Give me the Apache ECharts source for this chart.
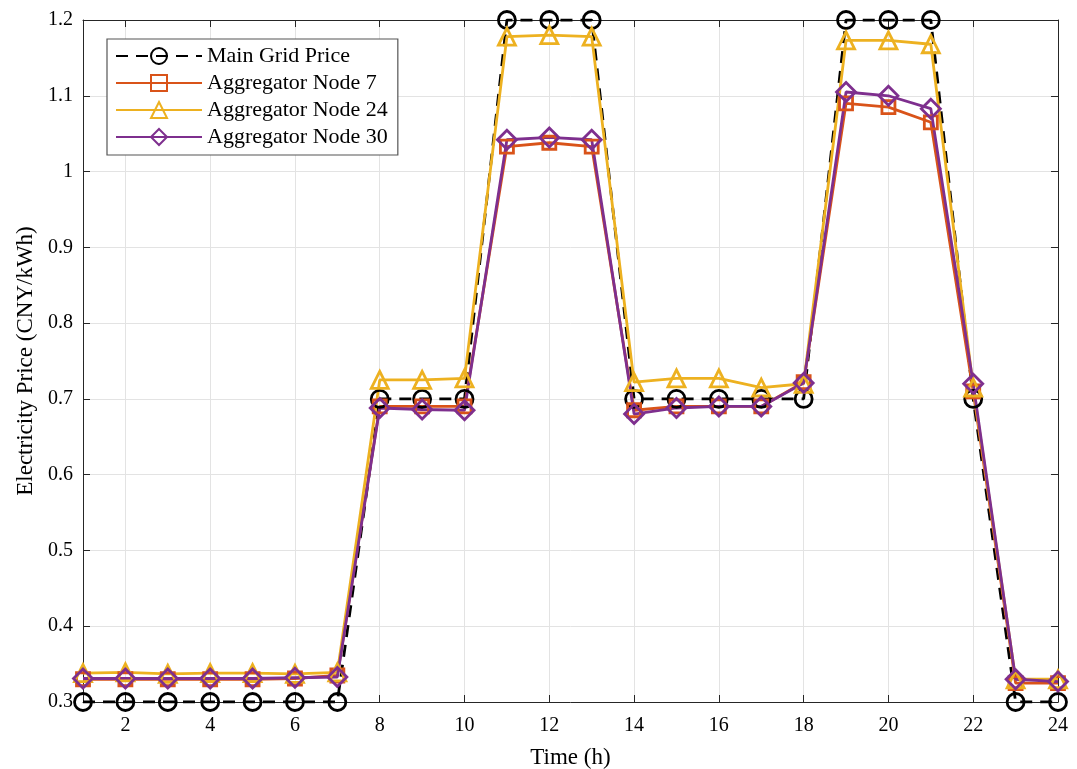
<!DOCTYPE html>
<html><head><meta charset="utf-8">
<script src="https://cdn.jsdelivr.net/npm/echarts@6/dist/echarts.min.js"></script>
<style>html,body{margin:0;padding:0;background:#fff}#c{width:1077px;height:769px}</style>
</head><body><div id="c"></div>
<script>
const hours = [1,2,3,4,5,6,7,8,9,10,11,12,13,14,15,16,17,18,19,20,21,22,23,24];
const gridPrice = [0.3,0.3,0.3,0.3,0.3,0.3,0.3,0.7,0.7,0.7,1.2,1.2,1.2,0.7,0.7,0.7,0.7,0.7,1.2,1.2,1.2,0.7,0.3,0.3];
const node7 = [0.33,0.33,0.33,0.33,0.33,0.331,0.335,0.69,0.69,0.69,1.033,1.038,1.033,0.685,0.69,0.69,0.69,0.722,1.09,1.085,1.065,0.71,0.325,0.325];
const node24 = [0.338,0.339,0.337,0.338,0.338,0.337,0.339,0.725,0.725,0.727,1.178,1.18,1.178,0.722,0.727,0.727,0.715,0.72,1.173,1.173,1.168,0.715,0.33,0.33];
const node30 = [0.331,0.331,0.331,0.331,0.331,0.332,0.333,0.688,0.686,0.685,1.042,1.045,1.042,0.68,0.688,0.69,0.69,0.721,1.105,1.10,1.083,0.72,0.33,0.327];
const yTicks = [0.3,0.4,0.5,0.6,0.7,0.8,0.9,1.0,1.1,1.2];

const FONT = 'Liberation Serif';
const even = (i) => (i % 2 === 1);
function mk(name, data, color, symbol, size, dashed) {
  return {
    name, type: 'line', data, symbol, symbolSize: size,
    lineStyle: {color, width: 2.8, type: dashed ? [12, 8] : 'solid'},
    itemStyle: {color: 'rgba(255,255,255,0)', borderColor: color, borderWidth: 2.8},
    emphasis: {disabled: true}, animation: false, z: 3
  };
}
const chart = echarts.init(document.getElementById('c'), null, {renderer: 'canvas'});
chart.setOption({
  animation: false,
  backgroundColor: '#fff',
  grid: {left: 83, right: 19, top: 20, bottom: 67, containLabel: false, outerBoundsMode: 'none'},
  legend: {
    left: 107, top: 39, orient: 'vertical',
    backgroundColor: '#fff', borderColor: '#555', borderWidth: 1.2,
    padding: [6, 10, 7, 8], itemGap: 5, itemWidth: 86, itemHeight: 20,
    textStyle: {fontFamily: FONT, fontSize: 22, color: '#000'},
    data: ['Main Grid Price','Aggregator Node 7','Aggregator Node 24','Aggregator Node 30']
  },
  xAxis: [{
    type: 'category', data: hours, boundaryGap: false,
    name: 'Time (h)', nameLocation: 'middle', nameGap: 44,
    nameTextStyle: {fontFamily: FONT, fontSize: 23, color: '#000'},
    axisLine: {lineStyle: {color: '#262626', width: 1}},
    axisTick: {inside: true, length: 7, interval: even, lineStyle: {color: '#262626'}},
    axisLabel: {interval: even, fontFamily: FONT, fontSize: 20, color: '#000', margin: 14},
    splitLine: {show: true, interval: even, lineStyle: {color: '#e3e3e3', width: 1}}
  }, {
    type: 'category', data: hours, boundaryGap: false, position: 'top',
    axisLine: {lineStyle: {color: '#262626', width: 1}},
    axisTick: {inside: true, length: 7, interval: even, lineStyle: {color: '#262626'}},
    axisLabel: {show: false}, splitLine: {show: false}
  }],
  yAxis: [{
    type: 'value', min: 0.3, max: 1.2, interval: 0.1,
    name: 'Electricity Price (CNY/kWh)', nameLocation: 'middle', nameGap: 46,
    nameTextStyle: {fontFamily: FONT, fontSize: 23, color: '#000'},
    axisLine: {show: true, lineStyle: {color: '#262626', width: 1}},
    axisTick: {show: true, inside: true, length: 7, lineStyle: {color: '#262626'}},
    axisLabel: {fontFamily: FONT, fontSize: 20, color: '#000', margin: 10,
      formatter: v => String(parseFloat(v.toFixed(1)))},
    splitLine: {show: true, lineStyle: {color: '#e3e3e3', width: 1}}
  }, {
    type: 'value', min: 0.3, max: 1.2, interval: 0.1, position: 'right',
    axisLine: {show: true, lineStyle: {color: '#262626', width: 1}},
    axisTick: {show: true, inside: true, length: 7, lineStyle: {color: '#262626'}},
    axisLabel: {show: false}, splitLine: {show: false}
  }],
  series: [
    mk('Main Grid Price', gridPrice, '#000000', 'circle', 17, true),
    mk('Aggregator Node 7', node7, '#D95319', 'rect', 13, false),
    mk('Aggregator Node 24', node24, '#EDB120', 'triangle', 17, false),
    mk('Aggregator Node 30', node30, '#7E2F8E', 'diamond', 19, false)
  ]
});
</script></body></html>
